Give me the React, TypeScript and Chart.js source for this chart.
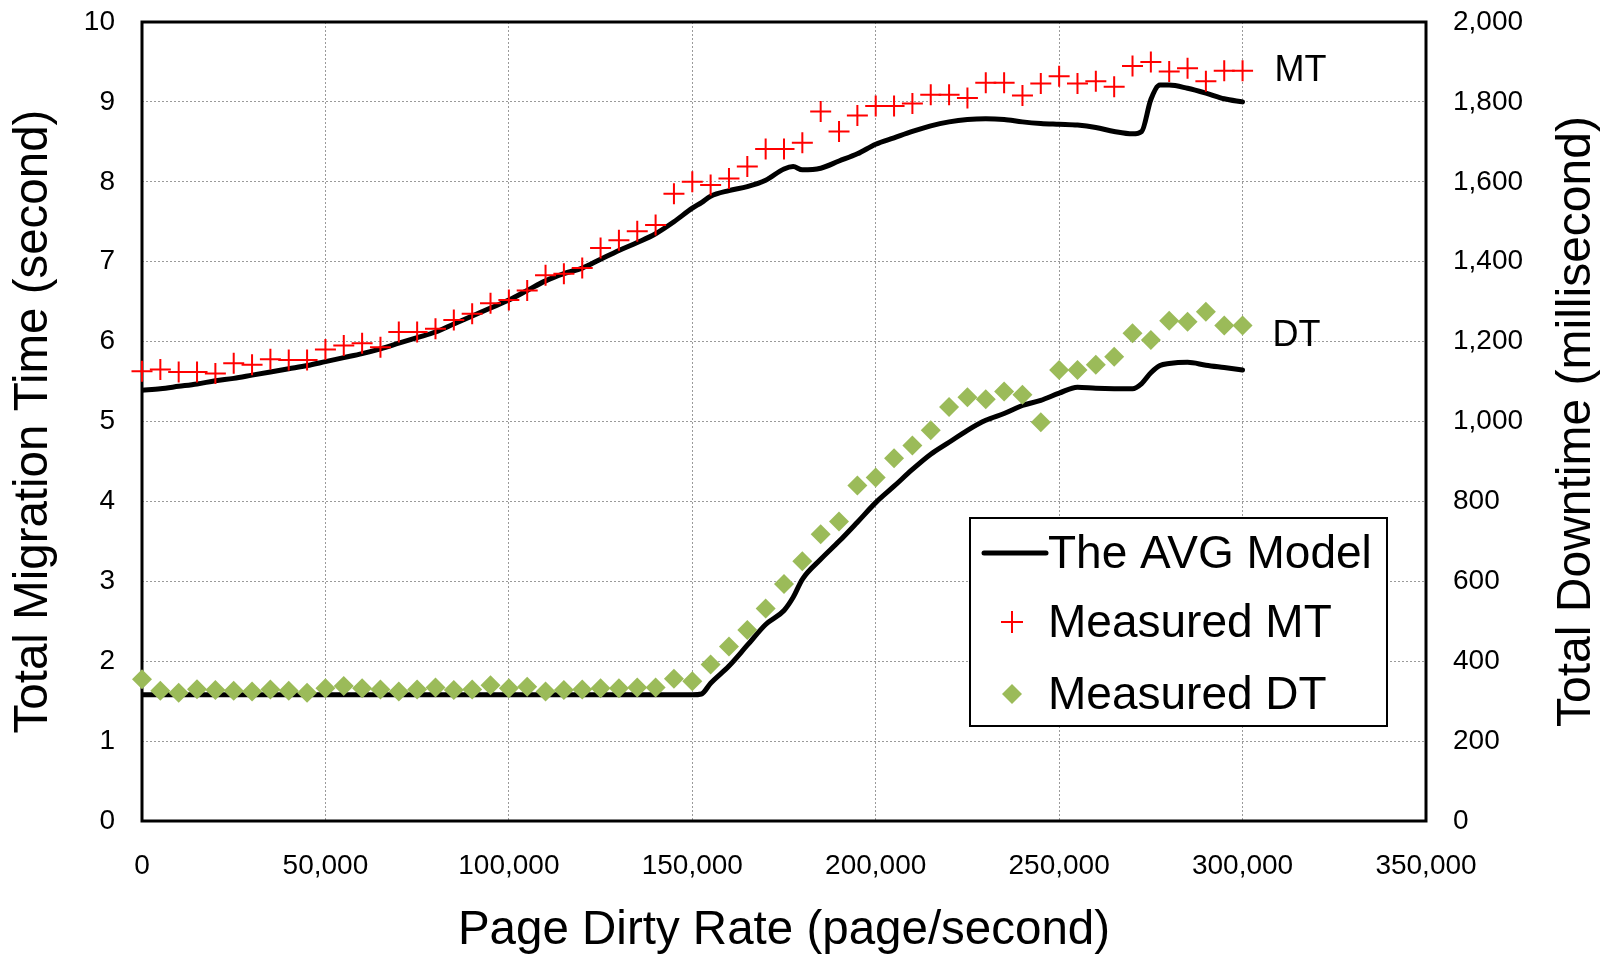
import React, { useEffect, useRef } from "react";
import { Chart, registerables } from "chart.js";

Chart.register(...registerables);

const FONT = "'Liberation Sans', Arial, Helvetica, sans-serif";

// Page dirty rate for the measured points (page/second)
const measuredX = [
  0, 5000, 10000, 15000, 20000, 25000, 30000, 35000, 40000, 45000,
  50000, 55000, 60000, 65000, 70000, 75000, 80000, 85000, 90000, 95000,
  100000, 105000, 110000, 115000, 120000, 125000, 130000, 135000, 140000, 145000,
  150000, 155000, 160000, 165000, 170000, 175000, 180000, 185000, 190000, 195000,
  200000, 205000, 210000, 215000, 220000, 225000, 230000, 235000, 240000, 245000,
  250000, 255000, 260000, 265000, 270000, 275000, 280000, 285000, 290000, 295000,
  300000,
];

// Measured total migration time (second)
const measuredMT = [
  5.63, 5.65, 5.62, 5.62, 5.6, 5.73, 5.71, 5.78, 5.77, 5.77,
  5.9, 5.95, 5.98, 5.93, 6.12, 6.12, 6.16, 6.27, 6.35, 6.48,
  6.52, 6.64, 6.83, 6.85, 6.92, 7.17, 7.27, 7.38, 7.46, 7.85,
  8.0, 7.96, 8.04, 8.19, 8.41, 8.41, 8.49, 8.88, 8.63, 8.83,
  8.95, 8.95, 8.98, 9.09, 9.09, 9.05, 9.24, 9.24, 9.08, 9.23,
  9.32, 9.23, 9.26, 9.19, 9.45, 9.5, 9.38, 9.42, 9.26, 9.39,
  9.39,
];

// Measured total downtime (millisecond)
const measuredDT = [
  355, 326, 321, 330, 328, 326, 324, 329, 326, 321,
  332, 338, 332, 329, 324, 329, 334, 328, 329, 340,
  332, 336, 324, 328, 329, 332, 332, 334, 334, 356,
  350, 392, 437, 478, 532, 593, 650, 718, 750, 840,
  860, 908, 940, 978, 1036, 1061, 1056, 1075, 1067, 998,
  1129, 1129, 1142, 1162, 1221, 1204, 1252, 1250, 1275, 1240,
  1240,
];

// Page dirty rate for the AVG model curve
const modelX = [
  0, 5000, 10000, 15000, 20000, 25000, 30000, 35000, 40000, 45000,
  50000, 55000, 60000, 65000, 70000, 75000, 80000, 85000, 90000, 95000,
  100000, 105000, 110000, 115000, 120000, 125000, 130000, 135000, 140000, 145000,
  150000, 152500, 155000, 160000, 165000, 170000, 175000, 177500, 180000, 185000,
  190000, 195000, 200000, 205000, 210000, 215000, 220000, 225000, 230000, 235000,
  240000, 245000, 250000, 255000, 260000, 265000, 270000, 272500, 275000, 277500,
  280000, 285000, 290000, 295000, 300000,
];

// AVG model: migration time (second)
const modelMT = [
  5.39, 5.41, 5.44, 5.47, 5.51, 5.54, 5.58, 5.62, 5.66, 5.7,
  5.75, 5.8, 5.85, 5.91, 5.98, 6.05, 6.12, 6.22, 6.32, 6.42,
  6.52, 6.64, 6.76, 6.85, 6.92, 7.03, 7.14, 7.24, 7.35, 7.5,
  7.67, 7.74, 7.82, 7.89, 7.94, 8.02, 8.16, 8.19, 8.15, 8.17,
  8.26, 8.35, 8.47, 8.55, 8.63, 8.7, 8.75, 8.78, 8.79, 8.78,
  8.75, 8.73, 8.72, 8.71, 8.68, 8.63, 8.6, 8.63, 9.03, 9.21,
  9.21, 9.17, 9.11, 9.04, 9.0,
];

// AVG model: downtime (millisecond)
const modelDT = [
  316, 316, 316, 316, 316, 316, 316, 316, 316, 316,
  316, 316, 316, 316, 316, 316, 316, 316, 316, 316,
  316, 316, 316, 316, 316, 316, 316, 316, 316, 316,
  316, 318, 345, 388, 440, 492, 527, 560, 605, 655,
  700, 748, 797, 838, 880, 918, 948, 978, 1003, 1020,
  1040, 1053, 1071, 1086, 1083, 1082, 1082, 1095, 1122, 1140,
  1145, 1148, 1141, 1135, 1129,
];

// Axis ranges / titles / labels
const xRange = [0, 350000];
const xStep = 50000;
const mtRange = [0, 10];
const mtStep = 1;
const dtRange = [0, 2000];
const dtStep = 200;
const xTitle = "Page Dirty Rate (page/second)";
const mtTitle = "Total Migration Time (second)";
const dtTitle = "Total Downtime (millisecond)";
const legendLabels = ["The AVG Model", "Measured MT", "Measured DT"];
const seriesTags = ["MT", "DT"];
// anchors (data values) for the inline MT / DT tags
const mtTagAnchor = [300000, 9.38];
const dtTagAnchor = [300000, 1214];

const RED = "#ff0000";
const GREEN = "#9bbb59";

const pts = (xs: number[], ys: number[]) => xs.map((x, i) => ({ x, y: ys[i] }));

function drawCross(ctx: CanvasRenderingContext2D, x: number, y: number, r: number) {
  ctx.beginPath();
  ctx.moveTo(x - r, y);
  ctx.lineTo(x + r, y);
  ctx.moveTo(x, y - r);
  ctx.lineTo(x, y + r);
  ctx.stroke();
}

function drawDiamond(ctx: CanvasRenderingContext2D, x: number, y: number, r: number) {
  ctx.beginPath();
  ctx.moveTo(x, y - r);
  ctx.lineTo(x + r, y);
  ctx.lineTo(x, y + r);
  ctx.lineTo(x - r, y);
  ctx.closePath();
  ctx.fill();
}

const overlayPlugin = {
  id: "overlay",
  beforeDatasetsDraw(chart: any) {
    const { ctx, chartArea: a } = chart;
    ctx.save();
    ctx.strokeStyle = "#000";
    ctx.lineWidth = 3;
    ctx.strokeRect(a.left, a.top, a.right - a.left, a.bottom - a.top);
    ctx.restore();
  },
  afterDraw(chart: any) {
    const { ctx, chartArea: a, scales } = chart;
    ctx.save();
    // right axis title (reads bottom to top)
    ctx.fillStyle = "#000";
    ctx.font = `48px ${FONT}`;
    ctx.textAlign = "center";
    ctx.textBaseline = "middle";
    ctx.translate(1577, (a.top + a.bottom) / 2);
    ctx.rotate(-Math.PI / 2);
    ctx.fillText(dtTitle, 0, 0);
    ctx.restore();

    // inline series tags
    ctx.save();
    ctx.fillStyle = "#000";
    ctx.font = `36px ${FONT}`;
    ctx.textAlign = "left";
    ctx.textBaseline = "middle";
    ctx.fillText(
      seriesTags[0],
      scales.x.getPixelForValue(mtTagAnchor[0]) + 32,
      scales.y.getPixelForValue(mtTagAnchor[1])
    );
    ctx.fillText(
      seriesTags[1],
      scales.x.getPixelForValue(dtTagAnchor[0]) + 30,
      scales.y1.getPixelForValue(dtTagAnchor[1])
    );
    ctx.restore();

    // legend box
    const left = a.right - 456;
    const top = a.bottom - 303;
    const w = 417;
    const h = 208;
    ctx.save();
    ctx.fillStyle = "#fff";
    ctx.fillRect(left, top, w, h);
    ctx.strokeStyle = "#000";
    ctx.lineWidth = 2;
    ctx.strokeRect(left, top, w, h);
    const rows = [top + 35, top + 104, top + 176];
    // line sample
    ctx.strokeStyle = "#000";
    ctx.lineWidth = 5;
    ctx.lineCap = "round";
    ctx.beginPath();
    ctx.moveTo(left + 14, rows[0]);
    ctx.lineTo(left + 76, rows[0]);
    ctx.stroke();
    ctx.lineCap = "butt";
    // cross sample
    ctx.strokeStyle = RED;
    ctx.lineWidth = 2;
    drawCross(ctx, left + 42, rows[1], 11);
    // diamond sample
    ctx.fillStyle = GREEN;
    drawDiamond(ctx, left + 42, rows[2], 10);
    // labels
    ctx.fillStyle = "#000";
    ctx.font = `46px ${FONT}`;
    ctx.textAlign = "left";
    ctx.textBaseline = "middle";
    legendLabels.forEach((t, i) => ctx.fillText(t, left + 78, rows[i] + 2));
    ctx.restore();
  },
};

export default function App() {
  const ref = useRef<HTMLCanvasElement>(null);
  useEffect(() => {
    document.body.style.margin = "0";
    const tickFont = { family: FONT, size: 28 };
    const grid = {
      color: "#9a9a9a",
      lineWidth: 1,
      drawTicks: false,
    };
    const border = { display: false, dash: [2, 2] };
    const chart = new Chart(ref.current as HTMLCanvasElement, {
      type: "line",
      data: {
        datasets: [
          {
            label: legendLabels[1],
            data: pts(measuredX, measuredMT),
            yAxisID: "y",
            showLine: false,
            pointStyle: "cross",
            pointRadius: 10.5,
            pointBorderWidth: 2,
            borderColor: RED,
            backgroundColor: RED,
            clip: false,
            order: 0,
          },
          {
            label: legendLabels[2],
            data: pts(measuredX, measuredDT),
            yAxisID: "y1",
            showLine: false,
            pointStyle: "rectRot",
            pointRadius: 10,
            pointBorderWidth: 0,
            borderColor: GREEN,
            backgroundColor: GREEN,
            clip: false,
            order: 0,
          },
          {
            label: legendLabels[0],
            data: pts(modelX, modelMT),
            yAxisID: "y",
            borderColor: "#000",
            borderWidth: 5,
            pointRadius: 0,
            cubicInterpolationMode: "monotone",
            borderCapStyle: "round",
            order: 1,
          },
          {
            label: legendLabels[0],
            data: pts(modelX, modelDT),
            yAxisID: "y1",
            borderColor: "#000",
            borderWidth: 5,
            pointRadius: 0,
            cubicInterpolationMode: "monotone",
            borderCapStyle: "round",
            order: 1,
          },
        ],
      } as any,
      options: {
        responsive: false,
        animation: false,
        layout: { padding: { top: 22, left: 0, right: 0, bottom: 0 } },
        plugins: {
          legend: { display: false },
          tooltip: { enabled: false },
        },
        scales: {
          x: {
            type: "linear",
            min: xRange[0],
            max: xRange[1],
            ticks: {
              stepSize: xStep,
              font: tickFont,
              color: "#000",
              padding: 28,
              maxRotation: 0,
              callback: (v: any) => Number(v).toLocaleString("en-US"),
            },
            grid,
            border,
            title: {
              display: true,
              text: xTitle,
              color: "#000",
              font: { family: FONT, size: 47.5, lineHeight: 1 },
              padding: { top: 0, bottom: 0 },
            },
            afterFit: (s: any) => {
              s.height = 134;
              s.paddingLeft = 0;
              s.paddingRight = 0;
            },
          },
          y: {
            type: "linear",
            position: "left",
            min: mtRange[0],
            max: mtRange[1],
            ticks: {
              stepSize: mtStep,
              font: tickFont,
              color: "#000",
              padding: 27,
            },
            grid,
            border,
            title: {
              display: true,
              text: mtTitle,
              color: "#000",
              font: { family: FONT, size: 47.5, lineHeight: 1.2 },
              padding: { top: 5, bottom: 0 },
            },
            afterFit: (s: any) => {
              s.width = 142;
              s.paddingTop = 0;
              s.paddingBottom = 0;
            },
          },
          y1: {
            type: "linear",
            position: "right",
            min: dtRange[0],
            max: dtRange[1],
            ticks: {
              stepSize: dtStep,
              font: tickFont,
              color: "#000",
              padding: 27,
              callback: (v: any) => Number(v).toLocaleString("en-US"),
            },
            grid: { drawOnChartArea: false, drawTicks: false },
            border: { display: false },
            title: { display: false },
            afterFit: (s: any) => {
              s.width = 185;
              s.paddingTop = 0;
              s.paddingBottom = 0;
            },
          },
        },
      } as any,
      plugins: [overlayPlugin],
    });
    return () => chart.destroy();
  }, []);
  return (
    <div style={{ width: 1611, height: 955, background: "#fff" }}>
      <canvas ref={ref} width={1611} height={955} style={{ display: "block" }} />
    </div>
  );
}
